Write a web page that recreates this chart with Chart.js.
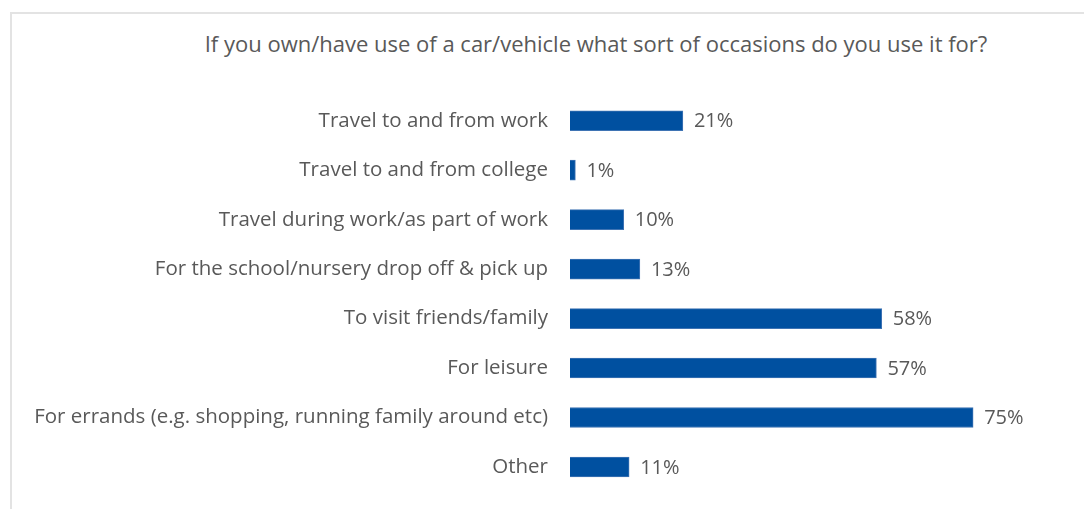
<!DOCTYPE html>
<html>
<head>
<meta charset="utf-8">
<script src="https://cdn.jsdelivr.net/npm/chart.js@4"></script>
<style>
    html, body { margin: 0; padding: 0; background: #fff; }
    #wrap { position: relative; width: 1084px; height: 509px; overflow: hidden; }
    #frame { position: absolute; left: 10px; top: 12px; width: 1100px; height: 520px; border: 2px solid #e3e3e3; box-sizing: border-box; }
    #title { position: absolute; left: 0; top: 28px; width: 1192px; text-align: center; font: 22px "Open Sans", sans-serif; line-height: 30px; color: #595959; }
    canvas { position: absolute; left: 0; top: 0; }
</style>
</head>
<body>
<div id="wrap">
    <div id="frame"></div>
    <div id="title">If you own/have use of a car/vehicle what sort of occasions do you use it for?</div>
    <canvas id="chart" width="1084" height="526"></canvas>
</div>
<script>
const categories = [
    'Travel to and from work',
    'Travel to and from college',
    'Travel during work/as part of work',
    'For the school/nursery drop off & pick up',
    'To visit friends/family',
    'For leisure',
    'For errands (e.g. shopping, running family around etc)',
    'Other'
];
const percentValues = [21, 1, 10, 13, 58, 57, 75, 11];

const textColor = '#595959';
const barColor = '#0050a0';

// draws the "21%" labels after the bars
const valueLabels = {
    id: 'valueLabels',
    afterDatasetsDraw(chart) {
        const ctx = chart.ctx;
        const meta = chart.getDatasetMeta(0);
        ctx.save();
        ctx.font = '20px "Open Sans", sans-serif';
        ctx.fillStyle = textColor;
        ctx.textAlign = 'left';
        ctx.textBaseline = 'middle';
        meta.data.forEach((bar, i) => {
            ctx.fillText(percentValues[i] + '%', bar.x + 11, bar.y + 1);
        });
        ctx.restore();
    }
};

new Chart(document.getElementById('chart'), {
    type: 'bar',
    data: {
        labels: categories,
        datasets: [{
            data: percentValues,
            backgroundColor: barColor,
            borderColor: '#3f74b4',
            borderWidth: 1,
            barThickness: 20
        }]
    },
    options: {
        indexAxis: 'y',
        responsive: false,
        animation: false,
        layout: {
            padding: { top: 96, bottom: 2, left: 0, right: 84 }
        },
        scales: {
            x: {
                display: false,
                min: 0,
                max: 80
            },
            y: {
                grid: { display: false, drawTicks: false },
                border: { display: false },
                ticks: {
                    color: textColor,
                    padding: 22,
                    font: { family: '"Open Sans", sans-serif', size: 20.5 }
                },
                afterFit: (scale) => { scale.width = 570; }
            }
        },
        plugins: {
            legend: { display: false },
            tooltip: { enabled: false }
        }
    },
    plugins: [valueLabels]
});
</script>
</body>
</html>
